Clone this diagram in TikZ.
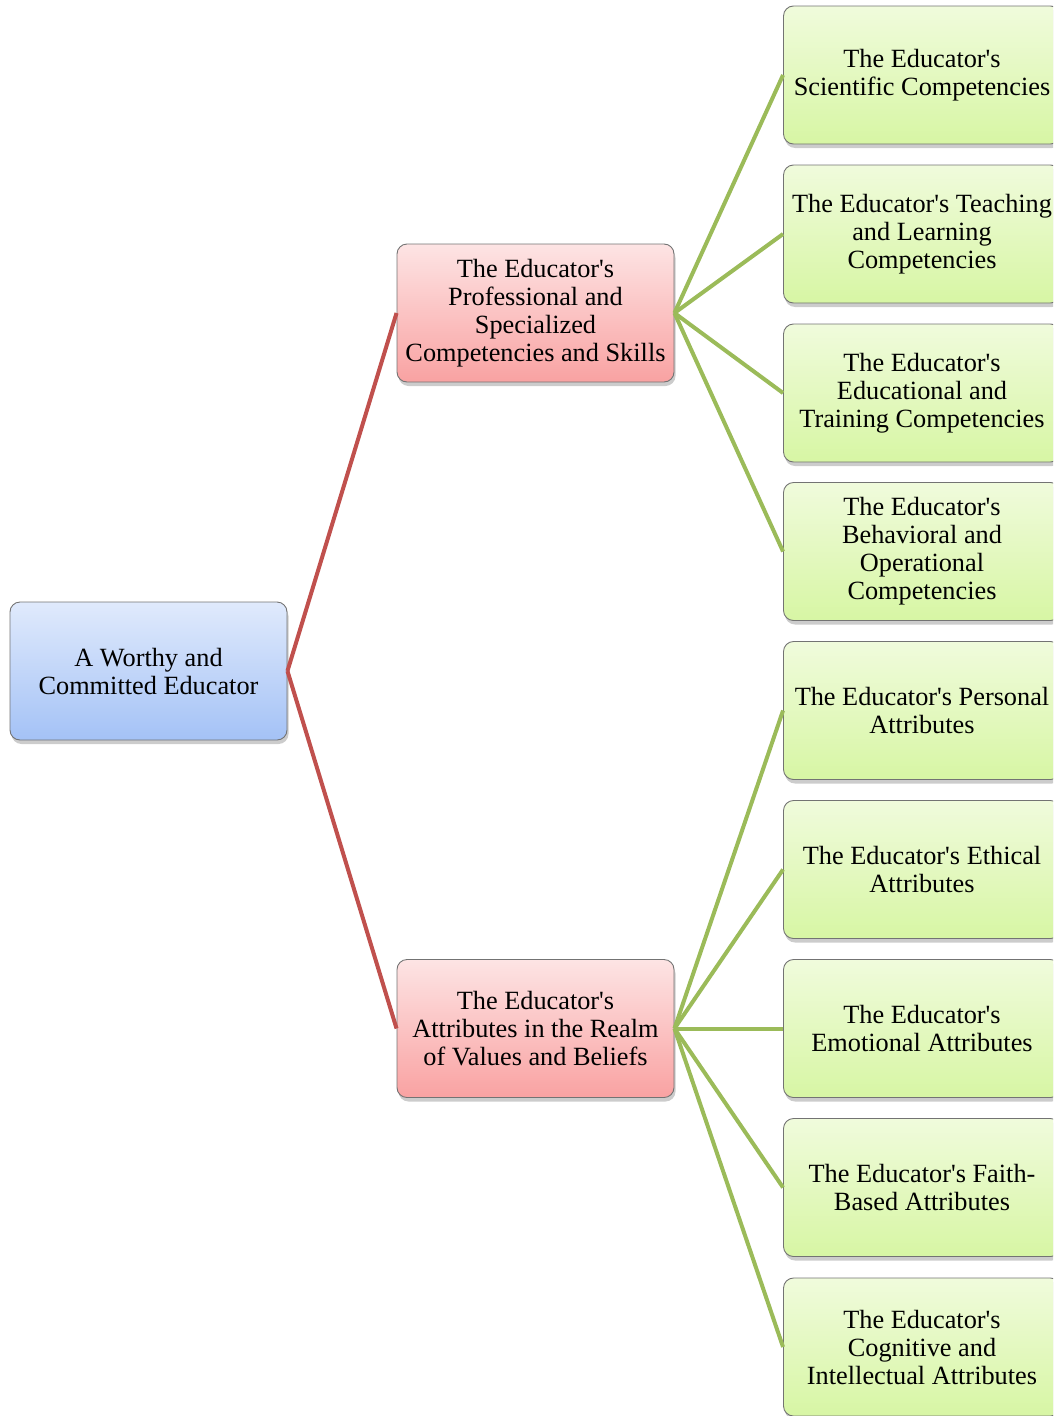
\documentclass[tikz,border=0pt]{standalone}
\usepackage{fontspec}
\setmainfont{Liberation Serif}
\usetikzlibrary{shadows}
\newcommand{\apo}{\textquotesingle}
\begin{document}
\begin{tikzpicture}[x=1pt,y=-1pt,
  box/.style={draw=black!55, line width=0.9pt, rounded corners=10pt, minimum width=277pt, minimum height=138pt,
    align=center, inner sep=1pt, font=\fontsize{26.3}{28}\selectfont,
    drop shadow={opacity=0.4, shadow xshift=1.5pt, shadow yshift=-4pt}},
  rootbox/.style={box, top color={rgb,255:red,224;green,234;blue,252}, bottom color={rgb,255:red,164;green,194;blue,246}},
  redbox/.style={box, top color={rgb,255:red,253;green,228;blue,228}, bottom color={rgb,255:red,249;green,162;blue,162}},
  greenbox/.style={box, top color={rgb,255:red,240;green,251;blue,220}, bottom color={rgb,255:red,215;green,246;blue,164}},
  redline/.style={draw={rgb,255:red,192;green,80;blue,77}, line width=4pt},
  greenline/.style={draw={rgb,255:red,155;green,187;blue,89}, line width=4pt}]
\useasboundingbox (0,0) rectangle (1053,1416);
\clip (0,0) rectangle (1053,1416);
\node[rootbox] (root) at (148.5,671) {A Worthy and\\Committed Educator};
\node[redbox] (p) at (535.5,313) {The Educator\apo s\\Professional and\\Specialized\\Competencies and Skills};
\node[redbox] (v) at (535.5,1028.5) {The Educator\apo s\\Attributes in the Realm\\of Values and Beliefs};
\node[greenbox] (g1) at (922,75) {The Educator\apo s\\Scientific Competencies};
\node[greenbox] (g2) at (922,234) {The Educator\apo s Teaching\\and Learning\\Competencies};
\node[greenbox] (g3) at (922,393) {The Educator\apo s\\Educational and\\Training Competencies};
\node[greenbox] (g4) at (922,551.5) {The Educator\apo s\\Behavioral and\\Operational\\Competencies};
\node[greenbox] (g5) at (922,710.5) {The Educator\apo s Personal\\Attributes};
\node[greenbox] (g6) at (922,869.5) {The Educator\apo s Ethical\\Attributes};
\node[greenbox] (g7) at (922,1028.5) {The Educator\apo s\\Emotional Attributes};
\node[greenbox] (g8) at (922,1187.5) {The Educator\apo s Faith-\\Based Attributes};
\node[greenbox] (g9) at (922,1347) {The Educator\apo s\\Cognitive and\\Intellectual Attributes};
\draw[redline] (root.east) -- (p.west);
\draw[redline] (root.east) -- (v.west);
\foreach \g in {g1,g2,g3,g4} \draw[greenline] (p.east) -- (\g.west);
\foreach \g in {g5,g6,g7,g8,g9} \draw[greenline] (v.east) -- (\g.west);
\end{tikzpicture}
\end{document}
